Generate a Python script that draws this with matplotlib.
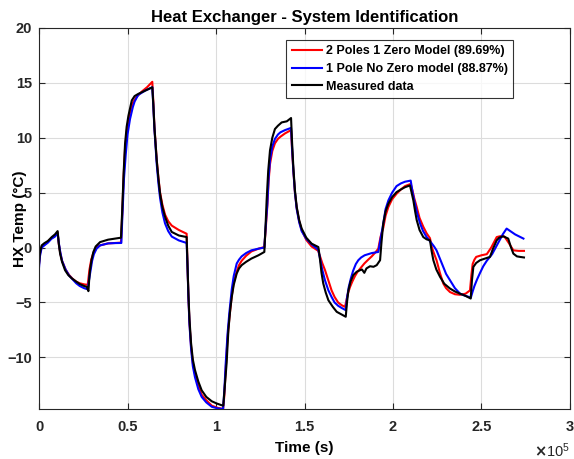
import matplotlib.pyplot as plt
from matplotlib.ticker import FuncFormatter, MultipleLocator

# time stamps in units of 1e5 s, temperatures in deg C
t_meas = [0.0, 0.005, 0.015, 0.03, 0.05, 0.072, 0.09, 0.105,
          0.112, 0.119, 0.13, 0.147, 0.165, 0.185, 0.21, 0.232, 0.255, 0.27, 0.279,
          0.283, 0.288, 0.297, 0.307, 0.32, 0.345, 0.39, 0.43, 0.463,
          0.47, 0.478, 0.486, 0.495, 0.505, 0.524, 0.54, 0.561, 0.6, 0.64,
          0.646, 0.652, 0.665, 0.675, 0.684, 0.697, 0.712, 0.73, 0.75, 0.79, 0.834,
          0.839, 0.844, 0.85, 0.859, 0.869, 0.881, 0.9, 0.919, 0.945, 0.976, 1.004, 1.03, 1.041,
          1.05, 1.06, 1.07, 1.08, 1.089, 1.1, 1.117, 1.13, 1.145, 1.17, 1.2, 1.24, 1.273,
          1.28, 1.286, 1.295, 1.305, 1.318, 1.333, 1.35, 1.371, 1.4, 1.424,
          1.43, 1.437, 1.446, 1.456, 1.47, 1.484, 1.51, 1.54, 1.578,
          1.583, 1.588, 1.596, 1.606, 1.62, 1.635, 1.66, 1.682, 1.71, 1.733,
          1.74, 1.748, 1.76, 1.776, 1.795, 1.814, 1.825, 1.838, 1.85, 1.87, 1.89, 1.908, 1.927,
          1.935, 1.945, 1.958, 1.974, 1.995, 2.02, 2.045, 2.068, 2.096,
          2.105, 2.115, 2.125, 2.134, 2.15, 2.171, 2.19, 2.209,
          2.218, 2.228, 2.245, 2.266, 2.29, 2.322, 2.35, 2.379, 2.41, 2.439,
          2.446, 2.454, 2.47, 2.492, 2.52, 2.548, 2.565, 2.586, 2.6, 2.623, 2.651, 2.665, 2.68, 2.7, 2.718, 2.74]
y_meas = [-1.45, -0.5, 0.2, 0.4, 0.6, 0.96, 1.2, 1.5,
          0.3, -0.55, -1.3, -2.06, -2.5, -2.8, -3.1, -3.34, -3.5, -3.58, -3.97,
          -3.0, -2.06, -1.1, -0.4, 0.1, 0.5, 0.72, 0.82, 0.9,
          3.4, 6.8, 9.45, 11.0, 12.0, 13.4, 13.8, 14.0, 14.3, 14.6,
          13.0, 10.96, 7.94, 6.2, 4.9, 3.7, 2.8, 2.0, 1.42, 1.1, 0.96,
          -1.5, -4.2, -6.5, -8.7, -10.2, -11.15, -12.2, -13.0, -13.6, -14.0, -14.2, -14.35, -14.4,
          -12.5, -10.5, -7.5, -5.7, -4.5, -3.4, -2.36, -1.9, -1.6, -1.3, -1.0, -0.7, -0.4,
          2.0, 4.3, 7.0, 8.85, 10.0, 10.8, 11.1, 11.4, 11.5, 11.8,
          9.5, 7.3, 5.2, 3.7, 2.5, 1.73, 0.9, 0.36, 0.05,
          -0.5, -1.15, -2.3, -3.27, -4.1, -4.8, -5.4, -5.85, -6.1, -6.3,
          -5.0, -3.9, -3.1, -2.5, -2.2, -2.06, -2.0, -2.3, -1.9, -1.7, -1.75, -1.6, -1.15,
          0.5, 2.2, 3.3, 4.0, 4.6, 5.05, 5.3, 5.5, 5.66,
          5.0, 4.3, 3.3, 2.5, 1.6, 0.96, 0.75, 0.66,
          -0.3, -1.15, -2.0, -2.67, -3.3, -3.73, -4.0, -4.2, -4.4, -4.64,
          -3.0, -1.76, -1.4, -1.15, -1.0, -0.85, -0.1, 0.66, 0.9, 1.03, 0.82, 0.1, -0.55, -0.8, -0.85, -0.9]

# 2 poles 1 zero model output
t_2p1z = [0.0, 0.005, 0.015, 0.03, 0.05, 0.07, 0.09, 0.105,
          0.112, 0.12, 0.13, 0.15, 0.17, 0.19, 0.21, 0.23, 0.255, 0.275,
          0.28, 0.285, 0.295, 0.307, 0.325, 0.345, 0.39, 0.43, 0.463,
          0.47, 0.478, 0.486, 0.497, 0.514, 0.53, 0.55, 0.58, 0.61, 0.64,
          0.646, 0.652, 0.665, 0.675, 0.684, 0.697, 0.712, 0.73, 0.75, 0.79, 0.834,
          0.839, 0.844, 0.85, 0.859, 0.869, 0.881, 0.9, 0.919, 0.945, 0.976, 1.01, 1.04,
          1.047, 1.055, 1.065, 1.075, 1.089, 1.1, 1.117, 1.13, 1.145, 1.17, 1.2, 1.24, 1.273,
          1.28, 1.29, 1.297, 1.305, 1.318, 1.333, 1.35, 1.364, 1.39, 1.424,
          1.43, 1.437, 1.446, 1.456, 1.47, 1.484, 1.51, 1.54, 1.578,
          1.583, 1.59, 1.6, 1.616, 1.635, 1.653, 1.67, 1.69, 1.71, 1.729,
          1.737, 1.745, 1.757, 1.77, 1.785, 1.8, 1.82, 1.838, 1.86, 1.88, 1.9, 1.917,
          1.93, 1.945, 1.958, 1.974, 1.995, 2.02, 2.045, 2.068, 2.1,
          2.11, 2.12, 2.134, 2.15, 2.171, 2.19, 2.209,
          2.22, 2.233, 2.246, 2.265, 2.284, 2.3, 2.322, 2.35, 2.379, 2.41, 2.435,
          2.443, 2.45, 2.46, 2.47, 2.5, 2.53, 2.555, 2.586, 2.61, 2.63, 2.655, 2.68, 2.71, 2.74]
y_2p1z = [-1.5, -0.6, 0.1, 0.3, 0.55, 0.85, 1.1, 1.4,
          0.3, -0.5, -1.2, -2.0, -2.5, -2.85, -3.1, -3.25, -3.35, -3.4,
          -2.7, -2.0, -1.1, -0.5, 0.0, 0.2, 0.38, 0.42, 0.45,
          3.0, 6.5, 9.0, 10.8, 12.3, 13.2, 13.7, 14.2, 14.6, 15.1,
          13.2, 11.0, 8.0, 6.3, 5.0, 3.9, 3.0, 2.4, 2.0, 1.6, 1.26,
          -1.5, -4.4, -6.8, -9.0, -10.5, -11.5, -12.6, -13.4, -13.9, -14.4, -14.6, -14.7,
          -13.5, -11.0, -8.3, -6.5, -4.4, -3.2, -2.2, -1.6, -1.2, -0.75, -0.35, -0.1, 0.05,
          1.5, 3.8, 6.0, 7.6, 8.8, 9.5, 9.9, 10.1, 10.4, 10.7,
          8.8, 7.0, 5.0, 3.6, 2.4, 1.6, 0.7, 0.1, -0.3,
          -0.6, -0.9, -1.4, -2.06, -3.0, -3.9, -4.5, -5.0, -5.25, -5.4,
          -4.8, -4.2, -3.6, -3.1, -2.6, -2.2, -1.8, -1.45, -1.1, -0.8, -0.45, -0.1,
          1.0, 1.8, 2.9, 3.7, 4.4, 4.9, 5.3, 5.6, 5.8,
          5.2, 4.5, 3.7, 2.7, 1.9, 1.3, 0.85,
          0.0, -0.6, -1.15, -2.3, -3.27, -3.7, -4.05, -4.25, -4.3, -4.2, -3.9,
          -2.5, -1.5, -1.1, -0.85, -0.7, -0.6, 0.0, 0.96, 1.05, 1.0, 0.4, -0.25, -0.3, -0.3]

# 1 pole no zero model output
t_1p0z = [0.0, 0.005, 0.015, 0.03, 0.05, 0.07, 0.09, 0.105,
          0.112, 0.12, 0.13, 0.15, 0.17, 0.19, 0.21, 0.23, 0.255, 0.275,
          0.282, 0.29, 0.3, 0.31, 0.325, 0.345, 0.39, 0.43, 0.465,
          0.47, 0.48, 0.49, 0.5, 0.514, 0.53, 0.54, 0.56, 0.6, 0.64,
          0.646, 0.652, 0.665, 0.675, 0.684, 0.697, 0.712, 0.73, 0.75, 0.79, 0.834,
          0.839, 0.844, 0.85, 0.859, 0.869, 0.881, 0.9, 0.919, 0.945, 0.976, 1.01, 1.04,
          1.047, 1.055, 1.065, 1.075, 1.089, 1.1, 1.117, 1.13, 1.145, 1.17, 1.2, 1.24, 1.273,
          1.28, 1.29, 1.297, 1.305, 1.318, 1.333, 1.35, 1.364, 1.39, 1.424,
          1.43, 1.437, 1.446, 1.456, 1.47, 1.484, 1.51, 1.54, 1.578,
          1.583, 1.59, 1.6, 1.616, 1.635, 1.653, 1.67, 1.69, 1.71, 1.733,
          1.74, 1.75, 1.762, 1.775, 1.79, 1.804, 1.82, 1.84, 1.86, 1.88, 1.9, 1.917,
          1.93, 1.945, 1.958, 1.974, 1.995, 2.02, 2.045, 2.068, 2.1,
          2.11, 2.12, 2.135, 2.153, 2.17, 2.19, 2.205, 2.218,
          2.232, 2.246, 2.265, 2.284, 2.3, 2.322, 2.35, 2.379, 2.41, 2.44,
          2.45, 2.46, 2.475, 2.492, 2.51, 2.53, 2.56, 2.58, 2.6, 2.62, 2.642, 2.69, 2.737]
y_1p0z = [-1.8, -0.8, 0.0, 0.2, 0.45, 0.8, 1.0, 1.3,
          0.4, -0.4, -1.2, -2.0, -2.55, -2.9, -3.25, -3.5, -3.7, -3.8,
          -3.0, -2.2, -1.2, -0.6, -0.1, 0.2, 0.38, 0.41, 0.42,
          2.5, 6.3, 8.5, 10.3, 11.7, 12.8, 13.3, 13.9, 14.3, 14.6,
          12.8, 10.8, 7.6, 5.8, 4.5, 3.2, 2.2, 1.5, 1.0, 0.65, 0.42,
          -1.8, -4.5, -7.0, -9.2, -10.8, -11.8, -12.9, -13.6, -14.1, -14.5, -14.65, -14.7,
          -13.0, -10.5, -7.9, -6.0, -3.8, -2.6, -1.45, -1.1, -0.8, -0.5, -0.25, -0.1, 0.0,
          1.8, 4.0, 6.3, 8.0, 9.2, 9.9, 10.3, 10.5, 10.7, 10.9,
          9.0, 7.0, 5.0, 3.5, 2.3, 1.5, 0.8, 0.3, -0.2,
          -0.6, -1.2, -2.0, -3.0, -3.9, -4.5, -5.0, -5.3, -5.5, -5.7,
          -4.6, -3.6, -2.8, -2.1, -1.5, -1.15, -0.9, -0.7, -0.6, -0.5, -0.45, -0.4,
          0.8, 2.2, 3.5, 4.3, 5.0, 5.6, 5.85, 6.0, 6.1,
          5.1, 4.3, 3.2, 2.2, 1.5, 0.96, 0.65, 0.4,
          0.1, -0.25, -1.0, -1.76, -2.4, -2.97, -3.7, -4.2, -4.4, -4.55,
          -4.0, -3.5, -2.9, -2.3, -1.7, -1.2, -0.6, 0.0, 0.6, 1.2, 1.73, 1.2, 0.82]

labels = ['2 Poles 1 Zero Model (89.69%)', '1 Pole No Zero model (88.87%)', 'Measured data']

plt.rcParams['font.family'] = ['Liberation Sans', 'DejaVu Sans']
plt.rcParams['font.weight'] = 'bold'

fig = plt.figure(figsize=(5.74, 4.59), dpi=100)
ax = fig.add_axes([0.068, 0.109, 0.925, 0.830])

ax.plot([v * 1e5 for v in t_2p1z], y_2p1z, color='red', lw=1.5, label=labels[0])
ax.plot([v * 1e5 for v in t_1p0z], y_1p0z, color='blue', lw=1.5, label=labels[1])
ax.plot([v * 1e5 for v in t_meas], y_meas, color='black', lw=1.5, label=labels[2])

ax.set_xlim(0, 3e5)
ax.set_ylim(-14.7, 20)
ax.xaxis.set_major_locator(MultipleLocator(0.5e5))
ax.yaxis.set_major_locator(MultipleLocator(5))
ax.xaxis.set_major_formatter(FuncFormatter(lambda v, p: f'{v / 1e5:g}'))
ax.grid(True, color='#dcdcdc', lw=0.8)
ax.set_axisbelow(True)

for s in ax.spines.values():
    s.set_color('#262626')
    s.set_linewidth(0.8)
ax.tick_params(direction='in', length=4, width=0.8, colors='#262626',
               labelsize=10.5, top=True, right=True)
ax.tick_params(axis='x', pad=8)
ax.tick_params(axis='y', pad=5)

ax.set_title('Heat Exchanger - System Identification', fontsize=12,
             fontweight='bold', pad=4)
ax.set_xlabel('Time (s)', fontsize=11, fontweight='bold', labelpad=5)
ax.set_ylabel('HX Temp (°C)', fontsize=11, fontweight='bold')
ax.yaxis.set_label_coords(-0.022, 0.5)
ax.text(1.0, -0.085, r'$\times\mathregular{10^5}$', transform=ax.transAxes,
        fontsize=10.5, fontweight='normal', ha='right', va='top', color='#262626')

leg = ax.legend(loc='upper right', bbox_to_anchor=(0.893, 0.969), fontsize=9,
                handlelength=2.4, frameon=True, fancybox=False, edgecolor='black',
                borderaxespad=0, labelspacing=0.45, handletextpad=0.3, borderpad=0.45)
leg.get_frame().set_linewidth(0.8)

fig.savefig('out.png', dpi=100)
